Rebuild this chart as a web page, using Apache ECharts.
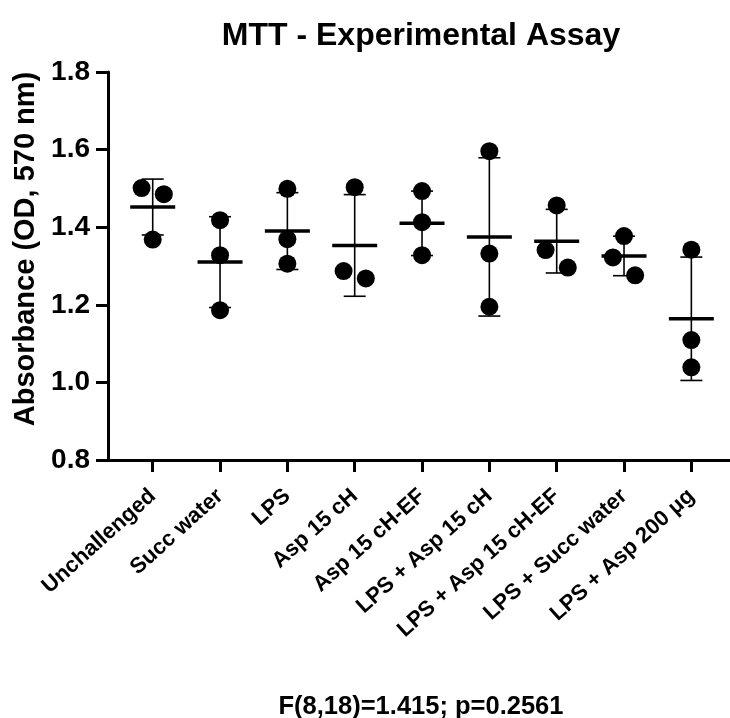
<!DOCTYPE html>
<html>
<head>
<meta charset="utf-8">
<script src="https://cdn.jsdelivr.net/npm/echarts@6/dist/echarts.min.js"></script>
<style>
  html, body { margin: 0; padding: 0; background: #fff; }
  #MttChart { width: 730px; height: 718px; }
</style>
</head>
<body>
<div id="MttChart"></div>
<script>
  // groups on the x axis
  let categories = ['Unchallenged', 'Succ water', 'LPS', 'Asp 15 cH', 'Asp 15 cH-EF',
    'LPS + Asp 15 cH', 'LPS + Asp 15 cH-EF', 'LPS + Succ water', 'LPS + Asp 200 \u03bcg'];

  // three replicate wells per group (OD 570 nm)
  let replicateA = [1.501, 1.418, 1.499, 1.503, 1.493, 1.596, 1.456, 1.377, 1.342];
  let replicateB = [1.485, 1.328, 1.369, 1.287, 1.413, 1.332, 1.341, 1.322, 1.109];
  let replicateC = [1.368, 1.186, 1.306, 1.268, 1.328, 1.195, 1.296, 1.276, 1.039];
  // which side a dot is nudged to when dots overlap (-1 left, 0 centre, 1 right)
  let slotA = [-1, 0, 0, 0, 0, 0, 0, 0, 0];
  let slotB = [1, 0, 0, -1, 0, 0, -1, -1, 0];
  let slotC = [0, 0, 0, 1, 0, 0, 1, 1, 0];

  // group mean and SD
  let means = [1.452, 1.310, 1.390, 1.353, 1.410, 1.375, 1.364, 1.326, 1.164];
  let sds = [0.072, 0.117, 0.099, 0.131, 0.083, 0.204, 0.082, 0.051, 0.159];

  let font = 'Arial, "Liberation Sans", sans-serif';
  let nudge = 0.165;

  let dots = [];
  [[replicateA, slotA], [replicateB, slotB], [replicateC, slotC]].forEach(function (pair) {
    pair[0].forEach(function (v, i) {
      dots.push([i + pair[1][i] * nudge, v]);
    });
  });

  let summary = means.map(function (m, i) { return [i, m, sds[i]]; });
  let catIndex = categories.map(function (c, i) { return i; });

  let myChart = echarts.init(document.getElementById('MttChart'));
  let option = {
    backgroundColor: '#fff',
    animation: false,
    title: [
      {
        text: 'MTT - Experimental Assay',
        left: 416,
        top: 15,
        textAlign: 'center',
        textStyle: { fontFamily: font, fontWeight: 'bold', fontSize: 32, color: '#000' }
      },
      {
        text: 'F(8,18)=1.415; p=0.2561',
        left: 416,
        top: 689,
        textAlign: 'center',
        textStyle: { fontFamily: font, fontWeight: 'bold', fontSize: 25.5, color: '#000' }
      }
    ],
    grid: { left: 108, right: 0, top: 72, bottom: 258 },
    xAxis: {
      type: 'value',
      min: -0.664,
      max: 8.574,
      splitLine: { show: false },
      axisLine: { show: true, onZero: false, lineStyle: { color: '#000', width: 3 } },
      axisTick: { show: true, customValues: catIndex, length: 12, lineStyle: { color: '#000', width: 3 } },
      axisLabel: {
        customValues: catIndex,
        rotate: 42,
        margin: 33,
        fontFamily: font,
        fontWeight: 'bold',
        fontSize: 22,
        color: '#000',
        formatter: function (v) { return categories[Math.round(v)]; }
      }
    },
    yAxis: {
      type: 'value',
      min: 0.8,
      max: 1.8,
      interval: 0.2,
      name: 'Absorbance (OD, 570 nm)',
      nameLocation: 'middle',
      nameRotate: 90,
      nameGap: 62,
      nameTextStyle: { fontFamily: font, fontWeight: 'bold', fontSize: 29, color: '#000', padding: [0, 0, 0, 34] },
      splitLine: { show: false },
      axisLine: { show: true, onZero: false, lineStyle: { color: '#000', width: 3 } },
      axisTick: { show: true, length: 12, lineStyle: { color: '#000', width: 3 } },
      axisLabel: {
        margin: 18,
        fontFamily: font,
        fontWeight: 'bold',
        fontSize: 28,
        color: '#000',
        formatter: function (v) { return v.toFixed(1); }
      }
    },
    series: [
      {
        name: 'mean ± SD',
        type: 'custom',
        z: 2,
        data: summary,
        renderItem: function (params, api) {
          let x = api.value(0), m = api.value(1), sd = api.value(2);
          let mid = api.coord([x, m]);
          let hi = api.coord([x, m + sd]);
          let lo = api.coord([x, m - sd]);
          let thin = { stroke: '#000', lineWidth: 1.6 };
          return {
            type: 'group',
            children: [
              { type: 'line', shape: { x1: mid[0], y1: hi[1], x2: mid[0], y2: lo[1] }, style: thin },
              { type: 'line', shape: { x1: mid[0] - 11, y1: hi[1], x2: mid[0] + 11, y2: hi[1] }, style: thin },
              { type: 'line', shape: { x1: mid[0] - 11, y1: lo[1], x2: mid[0] + 11, y2: lo[1] }, style: thin },
              { type: 'line', shape: { x1: mid[0] - 22.5, y1: mid[1], x2: mid[0] + 22.5, y2: mid[1] }, style: { stroke: '#000', lineWidth: 3.5 } }
            ]
          };
        }
      },
      {
        name: 'wells',
        type: 'scatter',
        z: 3,
        symbol: 'circle',
        symbolSize: 18,
        itemStyle: { color: '#000', opacity: 1 },
        data: dots
      }
    ]
  };
  myChart.setOption(option);
</script>
</body>
</html>
